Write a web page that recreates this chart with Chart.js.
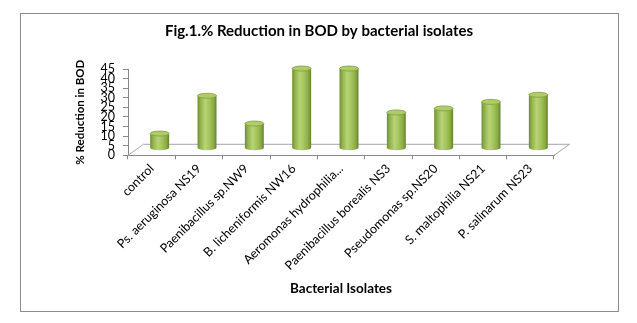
<!DOCTYPE html>
<html><head><meta charset="utf-8">
<script src="https://cdn.jsdelivr.net/npm/chart.js@4"></script>
<style>html,body{margin:0;padding:0;background:#fff}canvas{display:block}</style>
</head><body>
<canvas id="c" width="637" height="323"></canvas>
<script>
const categories = ['control', 'Ps. aeruginosa NS19', 'Paenibacillus sp.NW9', 'B. licheniformis NW16', 'Aeromonas hydrophilia...', 'Paenibacillus borealis NS3', 'Pseudomonas sp.NS20', 'S. maltophilia NS21', 'P. salinarum NS23'];
const reductionBOD = [7.7, 27.4, 12.9, 41.6, 41.6, 18.7, 20.8, 24.2, 27.9];
const yMin = 0, yMax = 45, yStep = 5;
const chartTitle = 'Fig.1.% Reduction in BOD by bacterial isolates';
const xTitle = 'Bacterial Isolates';
const yTitle = '% Reduction in BOD';

const FLOOR_DX = 15.5, FLOOR_DY = -11;
const BAR_DX = 8, BAR_DY = -7;

const frame = {
  id: 'frame',
  beforeDraw(chart) {
    const ctx = chart.ctx;
    ctx.save();
    ctx.fillStyle = '#fff';
    ctx.fillRect(0, 0, chart.width, chart.height);
    ctx.strokeStyle = '#8c8c8c';
    ctx.lineWidth = 1;
    ctx.strokeRect(20.5, 13.5, 598, 298);
    ctx.restore();
  }
};

const floor = {
  id: 'floor',
  beforeDatasetsDraw(chart) {
    const {ctx, chartArea: a} = chart;
    const y = chart.scales.y.getPixelForValue(0);
    ctx.save();
    ctx.strokeStyle = '#a6a6a6';
    ctx.lineWidth = 1;
    ctx.beginPath();
    ctx.moveTo(a.left, y);
    ctx.lineTo(a.left + FLOOR_DX, y + FLOOR_DY);
    ctx.lineTo(a.right + FLOOR_DX, y + FLOOR_DY);
    ctx.lineTo(a.right, y);
    ctx.stroke();
    ctx.restore();
  }
};

const cylinders = {
  id: 'cylinders',
  afterDatasetsDraw(chart) {
    const ctx = chart.ctx;
    const meta = chart.getDatasetMeta(0);
    meta.data.forEach(el => {
      const p = el.getProps(['x', 'y', 'base', 'width'], true);
      const cx = p.x + BAR_DX, rx = p.width / 2, ry = 2.5;
      const top = p.y + BAR_DY, bot = p.base + BAR_DY;
      ctx.save();
      const g = ctx.createLinearGradient(cx - rx, 0, cx + rx, 0);
      g.addColorStop(0, '#6e8e32');
      g.addColorStop(0.15, '#90b24b');
      g.addColorStop(0.4, '#b8d375');
      g.addColorStop(0.6, '#a8c660');
      g.addColorStop(0.85, '#8aac45');
      g.addColorStop(1, '#657f2d');
      ctx.fillStyle = g;
      ctx.beginPath();
      ctx.moveTo(cx - rx, top);
      ctx.lineTo(cx - rx, bot);
      ctx.ellipse(cx, bot, rx, ry, 0, Math.PI, 0, true);
      ctx.lineTo(cx + rx, top);
      ctx.closePath();
      ctx.fill();
      ctx.beginPath();
      ctx.ellipse(cx, top, rx, ry, 0, 0, Math.PI * 2);
      ctx.fillStyle = '#b0cc68';
      ctx.fill();
      ctx.strokeStyle = '#7f9e3f';
      ctx.lineWidth = 0.8;
      ctx.stroke();
      ctx.restore();
    });
  }
};

new Chart(document.getElementById('c'), {
  type: 'bar',
  data: {
    labels: categories,
    datasets: [{
      label: yTitle,
      data: reductionBOD,
      backgroundColor: 'rgba(0,0,0,0)',
      borderWidth: 0,
      categoryPercentage: 1,
      barPercentage: 0.4
    }]
  },
  options: {
    responsive: false,
    animation: false,
    devicePixelRatio: 1,
    layout: {padding: {left: 84, right: 83, top: 13, bottom: 11}},
    plugins: {
      legend: {display: false},
      tooltip: {enabled: false},
      title: {
        display: true,
        text: chartTitle,
        color: '#000',
        font: {family: 'Lato', size: 15, weight: 'bold'},
        padding: {top: 8.8, bottom: 29.2}
      }
    },
    scales: {
      x: {
        ticks: {maxRotation: 45, minRotation: 45, autoSkip: false, padding: 2, color: '#000', font: {family: 'Lato', size: 12.5}},
        grid: {drawOnChartArea: false, drawTicks: true, tickLength: 4, color: '#888', offset: true},
        border: {display: true, color: '#888'},
        title: {display: true, text: xTitle, color: '#000', font: {family: 'Lato', size: 13.5, weight: 'bold'}, padding: {top: 0, bottom: 14.9}},
        afterFit(s) { s.height = 156.7; }
      },
      y: {
        min: yMin,
        max: yMax,
        ticks: {stepSize: yStep, autoSkip: false, padding: 8, color: '#000', font: {family: 'Lato', size: 12.5, lineHeight: 1}},
        grid: {drawOnChartArea: false, drawTicks: true, tickLength: 5, color: '#888'},
        border: {display: true, color: '#888'},
        title: {display: true, text: yTitle, color: '#000', font: {family: 'Lato', size: 11.5, weight: 'bold'}, padding: {top: -10.9, bottom: 0}},
        afterFit(s) { s.width = 44; }
      }
    }
  },
  plugins: [frame, floor, cylinders]
});
</script>
</body></html>
